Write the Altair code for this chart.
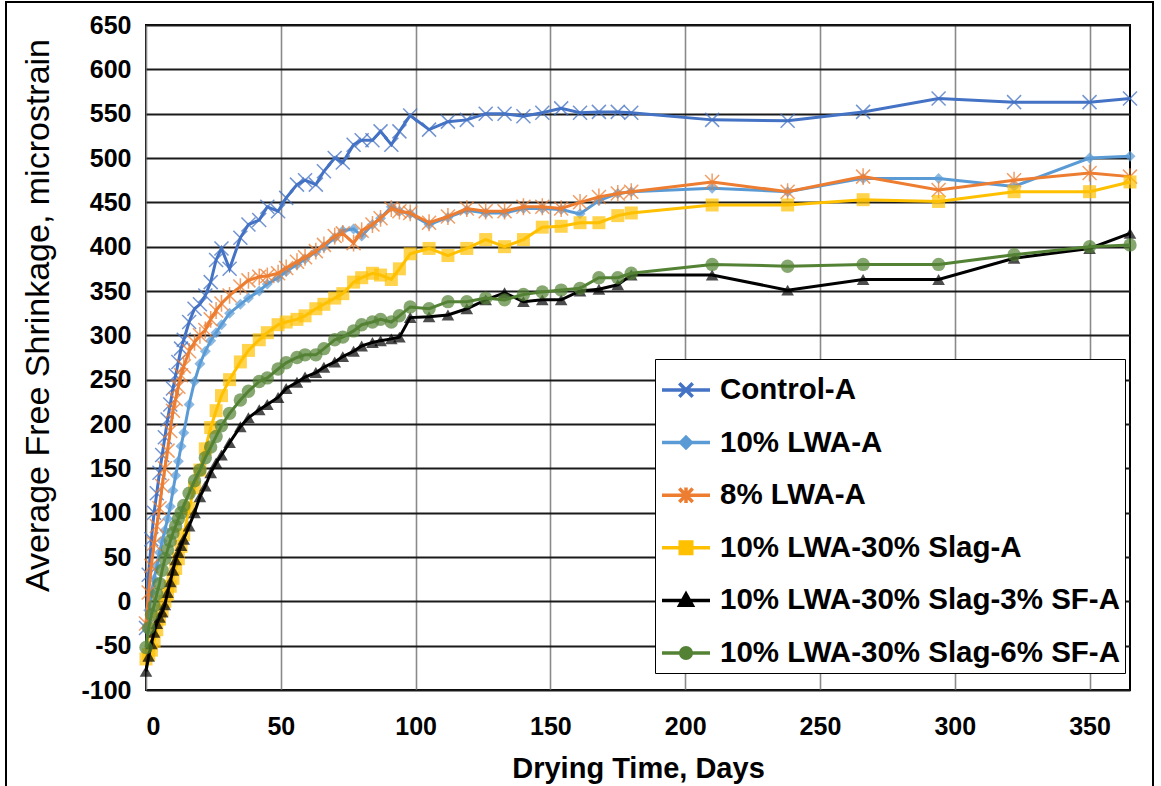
import altair as alt
import pandas as pd

days = [0, 1, 2, 3, 4, 5, 6, 7, 8, 9, 10, 11, 12, 13, 14,
        16, 18, 20, 22, 24, 26, 28,
        31, 35, 38, 42, 45, 49, 52, 56, 59, 63, 66, 70, 73, 77, 80, 84, 87, 91, 94, 98,
        105, 112, 119, 126, 133, 140, 147, 154, 161, 168, 175, 180,
        210, 238, 266, 294, 322, 350, 365]

control = [-30, 30, 70, 100, 122, 145, 165, 185, 205, 222, 240, 255, 270, 285, 295,
           315, 330, 335, 345, 360, 385, 398,
           375, 410, 425, 430, 445, 440, 455, 470, 475, 470, 485, 500, 495, 515, 520, 520, 530, 515, 530, 548,
           532, 541, 543, 550, 550, 547, 551, 556, 551, 552, 552, 551,
           543, 542, 552, 567, 563, 563, 567]

lwa10 = [-30, -10, 10, 25, 40, 55, 68, 80, 93, 107, 125, 142, 158, 175, 190,
         222, 248, 268, 282, 294, 303, 312,
         325, 335, 342, 350, 358, 365, 372, 380, 386, 394, 400, 410, 418, 420, 412, 425, 432, 445, 440, 437,
         425, 433, 441, 438, 438, 443, 443, 442, 437, 452, 460, 462,
         466, 462, 477, 477, 468, 500, 502]

lwa8 = [-25, 10, 40, 65, 85, 105, 130, 150, 170, 192, 215, 228, 242, 255, 265,
        282, 292, 300, 306, 318, 328, 336,
        345, 355, 362, 366, 367, 370, 376, 383, 388, 395, 402, 412, 415, 404, 418, 425, 432, 443, 440, 438,
        427, 434, 443, 440, 440, 445, 445, 443, 450, 456, 460, 462,
        473, 462, 479, 464, 475, 483, 479]

slag = [-65, -60, -55, -45, -32, -20, -10, 0, 8, 17, 26, 37, 48, 62, 75,
        105, 128, 148, 172, 196, 215, 232,
        250, 270, 283, 295, 303, 312, 315, 318, 322, 330, 335, 342, 347, 360, 365, 370, 368, 363, 375, 392,
        398, 390, 398, 408, 400, 408, 422, 423, 427, 427, 435, 438,
        447, 447, 453, 451, 462, 462, 473]

sf3 = [-79, -62, -48, -35, -25, -18, -12, -4, 10, 22, 35, 47, 55, 63, 70,
       85, 100, 118, 130, 145, 156, 165,
       179, 197, 207, 216, 222, 230, 240, 247, 253, 258, 264, 270, 276, 282, 288, 292, 294, 296, 298, 320,
       321, 323, 330, 340, 348, 338, 340, 340, 350, 352, 357, 368,
       368, 351, 363, 363, 387, 398, 415]

sf6 = [-52, -30, -15, -5, 8, 20, 35, 48, 58, 68, 77, 85, 93, 100, 108,
       122, 136, 148, 162, 174, 186, 198,
       212, 227, 237, 248, 252, 262, 269, 275, 278, 278, 285, 295, 298, 305, 312, 315, 318, 315, 322, 332,
       330, 338, 338, 342, 340, 346, 349, 351, 353, 365, 365, 370,
       380, 378, 380, 380, 391, 400, 402]

series_names = ["Control-A", "10% LWA-A", "8% LWA-A", "10% LWA-30% Slag-A",
                "10% LWA-30% Slag-3% SF-A", "10% LWA-30% Slag-6% SF-A"]
colors = ["#4472C4", "#5B9BD5", "#ED7D31", "#FFC000", "#000000", "#548235"]
x_ticks = [0, 50, 100, 150, 200, 250, 300, 350]
y_ticks = [-100, -50, 0, 50, 100, 150, 200, 250, 300, 350, 400, 450, 500, 550, 600, 650]

XPATH = "M-1,-1L1,1M-1,1L1,-1"
ASTER = "M-1,-1L1,1M-1,1L1,-1M0,-1.2L0,1.2"
marker_specs = [
    dict(shape=XPATH, filled=False, size=196, strokeWidth=1.5, opacity=0.75),
    dict(shape="diamond", filled=True, size=121),
    dict(shape=ASTER, filled=False, size=196, strokeWidth=1.5, opacity=0.75),
    dict(shape="square", filled=True, size=169),
    dict(shape="triangle-up", filled=True, size=160),
    dict(shape="circle", filled=True, size=180),
]
legend_paths = [
    "M-1,0L1,0M-0.28,-0.28L0.28,0.28M-0.28,0.28L0.28,-0.28",
    "M-1,0L1,0M0,-0.22L0.22,0L0,0.22L-0.22,0Z",
    "M-1,0L1,0M-0.28,-0.28L0.28,0.28M-0.28,0.28L0.28,-0.28M0,-0.32L0,0.32",
    "M-1,0L1,0M-0.24,-0.24L0.24,-0.24L0.24,0.24L-0.24,0.24Z",
    "M-1,0L1,0M0,-0.26L0.26,0.2L-0.26,0.2Z",
    "M-1,0L1,0M-0.22,0A0.22,0.22 0 1,0 0.22,0A0.22,0.22 0 1,0 -0.22,0Z",
]

series_values = [control, lwa10, lwa8, slag, sf3, sf6]
rows = []
for name, vals in zip(series_names, series_values):
    for d, v in zip(days, vals):
        rows.append({"series": name, "day": d, "value": v})
df = pd.DataFrame(rows)

FONT = "Liberation Sans"

x_enc = alt.X("day:Q", scale=alt.Scale(domain=[0, 365], nice=False, zero=False),
              axis=alt.Axis(values=x_ticks, labelFont=FONT, labelFontSize=25, labelFontWeight="bold",
                            labelColor="black", labelPadding=24, ticks=False, domain=False,
                            grid=True, gridColor="#8a8a8a", gridWidth=1.6,
                            title="Drying Time, Days", titleFont=FONT, titleFontSize=29,
                            titleFontWeight="bold", titleColor="black", titleY=78,
                            titleBaseline="middle"))
y_enc = alt.Y("value:Q", scale=alt.Scale(domain=[-100, 650], nice=False, zero=False),
              axis=alt.Axis(values=y_ticks, labelFont=FONT, labelFontSize=25, labelFontWeight="bold",
                            labelColor="black", labelPadding=15, ticks=False, domain=False,
                            labelExpr="'' + datum.value",
                            grid=True, gridColor="#1a1a1a", gridWidth=1.8,
                            title="Average Free Shrinkage, microstrain", titleFont=FONT,
                            titleFontSize=34, titleFontWeight="normal", titleColor="black",
                            titleX=-108, titleY=290, titleBaseline="middle", titleAlign="center",
                            titleAngle=270))

layers = []
for name, col, spec in zip(series_names, colors, marker_specs):
    base = alt.Chart(df).transform_filter(alt.datum.series == name)
    line = base.mark_line(color=col, strokeWidth=3).encode(x=x_enc, y=y_enc, order="day:Q")
    pts = base.mark_point(color=col, **spec).encode(x=x_enc, y=y_enc)
    layers += [line, pts]

leg = alt.Legend(title=None, orient="none", legendX=509, legendY=334, direction="vertical",
                 symbolSize=2304, symbolStrokeWidth=3.5, symbolOpacity=1,
                 symbolFillColor="white", symbolStrokeColor="black",
                 labelFont=FONT, labelFontSize=29.5, labelFontWeight="bold", labelColor="black",
                 labelOffset=8, labelLimit=0, rowPadding=11.6, padding=5,
                 strokeColor="black", fillColor="white")
leg_df = pd.DataFrame({"series": series_names})
legend_layer = alt.Chart(leg_df).mark_point(opacity=0, filled=True).encode(
    fill=alt.Fill("series:N", scale=alt.Scale(domain=series_names, range=colors), legend=leg),
    stroke=alt.Stroke("series:N", scale=alt.Scale(domain=series_names, range=colors), legend=leg),
    shape=alt.Shape("series:N", scale=alt.Scale(domain=series_names, range=legend_paths), legend=leg),
)

frame = alt.Chart(pd.DataFrame({"a": [0]})).mark_rect(
    fillOpacity=0, stroke="black", strokeWidth=2).encode(
    x=alt.value(-140), x2=alt.value(1007), y=alt.value(-23), y2=alt.value(800))

chart = alt.layer(*layers, legend_layer, frame).properties(
    width=984, height=665,
    autosize=alt.AutoSizeParams(type="none"),
    padding={"left": 146, "top": 25, "right": 31, "bottom": 96},
    background="white",
).configure_view(stroke="black", strokeWidth=2)

chart.save("out.html", embed_options={"renderer": "svg", "actions": False})
